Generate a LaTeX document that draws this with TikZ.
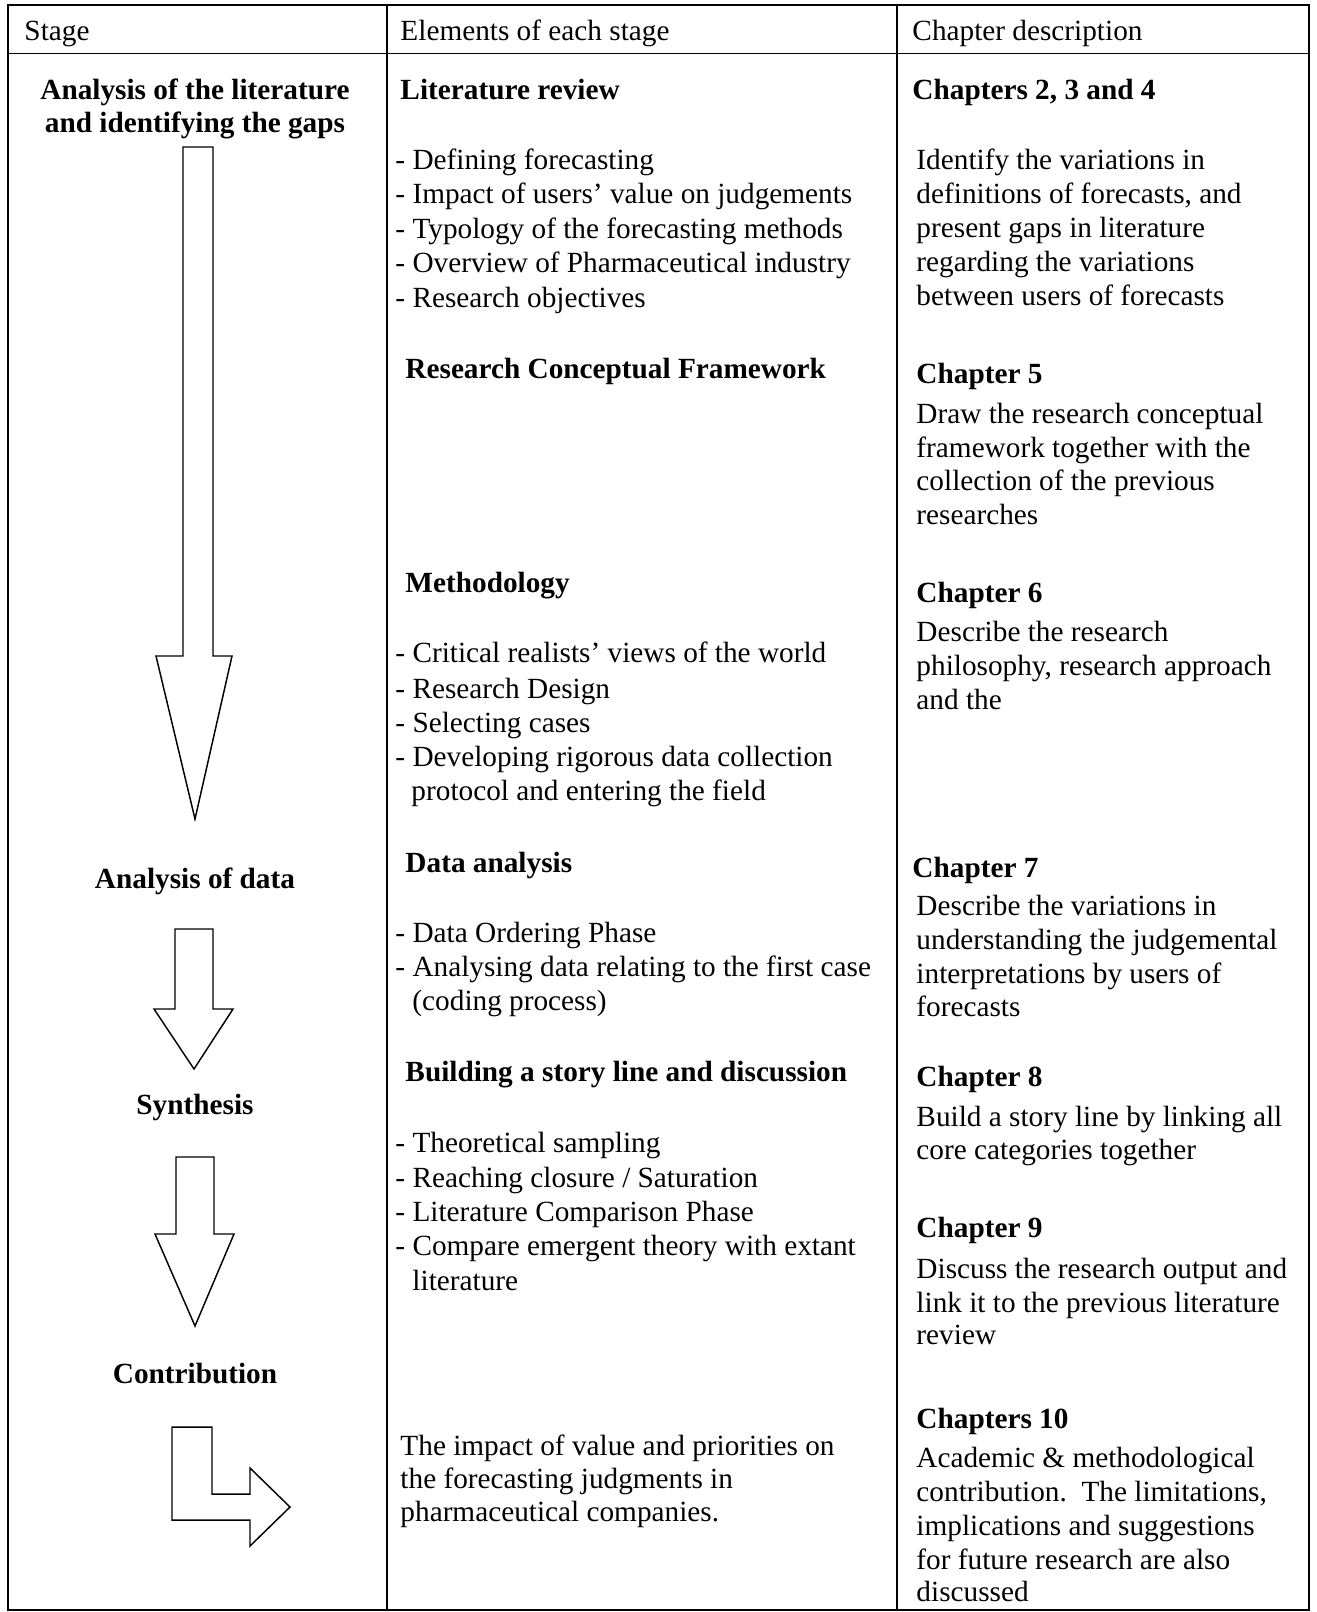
\documentclass[tikz,border=0pt]{standalone}
\usepackage{fontspec}
\setmainfont{Liberation Serif}
\begin{document}
\begin{tikzpicture}[x=0.41pt,y=-0.41pt,
  t/.style={anchor=base west, inner sep=0pt, font=\fontsize{12}{14}\selectfont},
  b/.style={anchor=base west, inner sep=0pt, font=\fontsize{12}{14}\selectfont\bfseries},
  c/.style={anchor=base, inner sep=0pt, font=\fontsize{12}{14}\selectfont\bfseries},
  gridline/.style={line width=0.8pt},
  arr/.style={line width=0.6pt, line join=miter, fill=white}]
\useasboundingbox (0,0) rectangle (1317,1612);
% table
\draw[gridline] (8,5) rectangle (1309,1610);
\draw[gridline] (8,53.5) -- (1309,53.5);
\draw[gridline] (387,5) -- (387,1610);
\draw[gridline] (897,5) -- (897,1610);
% header
\node[t] (h1) at (24,40) {Stage};
\node[t] (h2) at (400,40) {Elements of each stage};
\node[t] (h3) at (912,40) {Chapter description};
% column 1
\node[c] (s1a) at (195,99) {Analysis of the literature};
\node[c] (s1b) at (195,132) {and identifying the gaps};
\node[c] (s2) at (195,888) {Analysis of data};
\node[c] (s3) at (195,1114) {Synthesis};
\node[c] (s4) at (195,1383) {Contribution};
% arrows
\draw[arr] (183,147) -- (213,147) -- (213,656) -- (232,656) -- (195,819) -- (156,656) -- (183,656) -- cycle;
\draw[arr] (175,929) -- (213,929) -- (213,1009) -- (233,1009) -- (194,1069) -- (154,1009) -- (175,1009) -- cycle;
\draw[arr] (176,1157) -- (214,1157) -- (214,1234) -- (234,1234) -- (195,1326) -- (155,1234) -- (176,1234) -- cycle;
\draw[arr] (172,1427) -- (212,1427) -- (212,1494) -- (250,1494) -- (250,1468) -- (290,1507) -- (250,1546) -- (250,1520) -- (172,1520) -- cycle;
% column 2
\node[b] (lr) at (400,99) {Literature review};
\foreach \y/\s [count=\i] in {169/{- Defining forecasting},203/{- Impact of users’ value on judgements},238/{- Typology of the forecasting methods},272/{- Overview of Pharmaceutical industry},307/{- Research objectives}}
  \node[t] (lr\i) at (395,\y) {\s};
\node[b] (rcf) at (405,378) {Research Conceptual Framework};
\node[b] (meth) at (405,592) {Methodology};
\foreach \y/\s [count=\i] in {662/{- Critical realists’ views of the world},698/{- Research Design},732/{- Selecting cases},766/{- Developing rigorous data collection}}
  \node[t] (m\i) at (395,\y) {\s};
\node[t] (m5) at (411,800) {protocol and entering the field};
\node[b] (da) at (405,872) {Data analysis};
\node[t] (da1) at (395,942) {- Data Ordering Phase};
\node[t] (da2) at (395,976) {- Analysing data relating to the first case};
\node[t] (da3) at (412,1010) {(coding process)};
\node[b] (bs) at (405,1081) {Building a story line and discussion};
\foreach \y/\s [count=\i] in {1152/{- Theoretical sampling},1187/{- Reaching closure / Saturation},1221/{- Literature Comparison Phase},1255/{- Compare emergent theory with extant}}
  \node[t] (bs\i) at (395,\y) {\s};
\node[t] (bs5) at (412,1290) {literature};
\node[t] (im1) at (400,1455) {The impact of value and priorities on};
\node[t] (im2) at (400,1488) {the forecasting judgments in};
\node[t] (im3) at (400,1521) {pharmaceutical companies.};
% column 3
\node[b] (c234) at (912,99) {Chapters 2, 3 and 4};
\foreach \y/\s [count=\i] in {169/{Identify the variations in},203/{definitions of forecasts, and},237/{present gaps in literature},271/{regarding the variations},305/{between users of forecasts}}
  \node[t] (ca\i) at (916,\y) {\s};
\node[b] (c5) at (916,383) {Chapter 5};
\foreach \y/\s [count=\i] in {423/{Draw the research conceptual},457/{framework together with the},490/{collection of the previous},524/{researches}}
  \node[t] (cb\i) at (916,\y) {\s};
\node[b] (c6) at (916,602) {Chapter 6};
\foreach \y/\s [count=\i] in {641/{Describe the research},675/{philosophy, research approach},709/{and the}}
  \node[t] (cc\i) at (916,\y) {\s};
\node[b] (c7) at (912,877) {Chapter 7};
\foreach \y/\s [count=\i] in {915/{Describe the variations in},949/{understanding the judgemental},983/{interpretations by users of},1016/{forecasts}}
  \node[t] (cd\i) at (916,\y) {\s};
\node[b] (c8) at (916,1086) {Chapter 8};
\foreach \y/\s [count=\i] in {1126/{Build a story line by linking all},1159/{core categories together}}
  \node[t] (ce\i) at (916,\y) {\s};
\node[b] (c9) at (916,1237) {Chapter 9};
\foreach \y/\s [count=\i] in {1278/{Discuss the research output and},1312/{link it to the previous literature},1344/{review}}
  \node[t] (cf\i) at (916,\y) {\s};
\node[b] (c10) at (916,1428) {Chapters 10};
\foreach \y/\s [count=\i] in {1467/{Academic \& methodological},1501/{contribution.\ \ The limitations,},1535/{implications and suggestions},1569/{for future research are also},1601/{discussed}}
  \node[t] (cg\i) at (916,\y) {\s};
\end{tikzpicture}
\end{document}
